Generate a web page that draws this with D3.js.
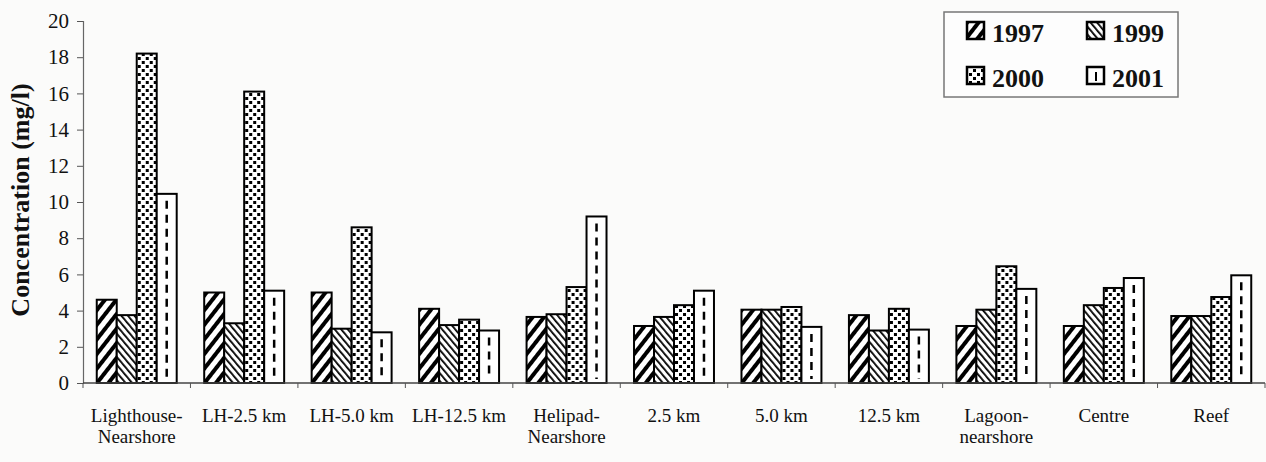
<!DOCTYPE html>
<html><head><meta charset="utf-8">
<script src="https://cdn.jsdelivr.net/npm/d3@7"></script>
<style>body{margin:0;background:#fbfbfa;} svg{display:block;}</style>
</head><body>
<svg id="chart" width="1266" height="462"></svg>
<script>
const categories = ["Lighthouse-\nNearshore","LH-2.5 km","LH-5.0 km","LH-12.5 km","Helipad-\nNearshore","2.5 km","5.0 km","12.5 km","Lagoon-\nnearshore","Centre","Reef"];
const seriesNames = ["1997","1999","2000","2001"];
const v1997 = [4.6, 5.0, 5.0, 4.1, 3.65, 3.15, 4.05, 3.75, 3.15, 3.15, 3.7];
const v1999 = [3.75, 3.3, 3.0, 3.2, 3.8, 3.65, 4.05, 2.9, 4.05, 4.3, 3.7];
const v2000 = [18.2, 16.1, 8.6, 3.5, 5.3, 4.3, 4.2, 4.1, 6.45, 5.25, 4.75];
const v2001 = [10.45, 5.1, 2.8, 2.9, 9.2, 5.1, 3.1, 2.95, 5.2, 5.8, 5.95];
const yTicks = [0,2,4,6,8,10,12,14,16,18,20];
const yTitle = "Concentration (mg/l)";

const series = [v1997, v1999, v2000, v2001];
const svg = d3.select("#chart");
const mLeft = 83, mRight = 1265, mTop = 21, mBottom = 383;

const x0 = d3.scaleBand().domain(categories).range([mLeft, mRight]).paddingInner(0.256).paddingOuter(0.128);
const x1 = d3.scaleBand().domain(seriesNames).range([0, x0.bandwidth()]);
const y = d3.scaleLinear().domain([0, 20]).range([mBottom, mTop]);

// patterns
const defs = svg.append("defs");
const p1 = defs.append("pattern").attr("id","p1997").attr("patternUnits","userSpaceOnUse")
  .attr("width",9).attr("height",9).attr("patternTransform","rotate(38)");
p1.append("rect").attr("width",9).attr("height",9).attr("fill","#fff");
p1.append("rect").attr("x",0).attr("y",0).attr("width",4).attr("height",9).attr("fill","#000");
const p2 = defs.append("pattern").attr("id","p1999").attr("patternUnits","userSpaceOnUse")
  .attr("width",5).attr("height",5).attr("patternTransform","rotate(-40)");
p2.append("rect").attr("width",5).attr("height",5).attr("fill","#fff");
p2.append("rect").attr("x",0).attr("y",0).attr("width",1.8).attr("height",5).attr("fill","#000");
const p3 = defs.append("pattern").attr("id","p2000").attr("patternUnits","userSpaceOnUse")
  .attr("width",8).attr("height",8);
p3.append("rect").attr("width",8).attr("height",8).attr("fill","#fff");
p3.append("rect").attr("x",1).attr("y",1).attr("width",3).attr("height",3).attr("fill","#000");
p3.append("rect").attr("x",5).attr("y",5).attr("width",3).attr("height",3).attr("fill","#000");
const fills = ["url(#p1997)","url(#p1999)","url(#p2000)","#fff"];

// y axis
const yAxis = d3.axisLeft(y).tickValues(yTicks).tickSize(6).tickPadding(8);
const ga = svg.append("g").attr("transform",`translate(${mLeft},0)`).call(yAxis);
ga.select(".domain").attr("stroke","#666").attr("stroke-width",1.2);
ga.selectAll(".tick line").attr("stroke","#555");
ga.selectAll(".tick text").attr("font-family","Liberation Serif").attr("font-size",21).attr("fill","#111");

// bars
const groups = svg.append("g").selectAll("g").data(categories).join("g")
  .attr("transform", d => `translate(${x0(d)},0)`);
seriesNames.forEach((s, si) => {
  groups.append("rect")
    .attr("x", x1(s)).attr("width", x1.bandwidth())
    .attr("y", (d,i) => y(series[si][i]))
    .attr("height", (d,i) => y(0) - y(series[si][i]))
    .attr("fill", fills[si]).attr("stroke","#000").attr("stroke-width",2);
});
// 2001 dashed center lines
groups.append("line")
  .attr("x1", x1("2001") + x1.bandwidth()/2).attr("x2", x1("2001") + x1.bandwidth()/2)
  .attr("y1", (d,i) => y(v2001[i]) + 7).attr("y2", y(0) - 4)
  .attr("stroke","#000").attr("stroke-width",2.5).attr("stroke-dasharray","8,6");

// x axis
svg.append("line").attr("x1",mLeft).attr("x2",mRight).attr("y1",mBottom).attr("y2",mBottom)
  .attr("stroke","#444").attr("stroke-width",1.5);
const step = x0.step();
const bounds = d3.range(categories.length + 1).map(i => mLeft + i * step);
svg.append("g").selectAll("line").data(bounds).join("line")
  .attr("x1", d => d).attr("x2", d => d).attr("y1", mBottom).attr("y2", mBottom + 5)
  .attr("stroke","#555").attr("stroke-width",1);
const xl = svg.append("g").selectAll("text").data(categories).join("text")
  .attr("x", d => x0(d) + x0.bandwidth()/2).attr("y", 422)
  .attr("text-anchor","middle").attr("font-family","Liberation Serif").attr("font-size",19).attr("fill","#111");
xl.each(function(d){
  const lines = d.split("\n");
  d3.select(this).selectAll("tspan").data(lines).join("tspan")
    .attr("x", x0(d) + x0.bandwidth()/2).attr("dy",(l,i)=> i===0?0:21).text(l => l);
});

// y title
svg.append("text").attr("transform","translate(29,200) rotate(-90)")
  .attr("text-anchor","middle").attr("font-family","Liberation Serif").attr("font-weight","bold")
  .attr("font-size",26).attr("fill","#111").text(yTitle);

// legend
const lg = svg.append("g");
lg.append("rect").attr("x",944).attr("y",12).attr("width",234).attr("height",85)
  .attr("fill","#fdfdfd").attr("stroke","#777").attr("stroke-width",1.5);
const lpos = [[967,22],[1087,22],[967,67],[1087,67]];
seriesNames.forEach((s, si) => {
  const [lx, ly] = lpos[si];
  lg.append("rect").attr("x",lx).attr("y",ly).attr("width",17).attr("height",17)
    .attr("fill", fills[si]).attr("stroke","#000").attr("stroke-width",2.5);
  if (si === 3) {
    lg.append("line").attr("x1",lx+9).attr("x2",lx+9).attr("y1",ly+5).attr("y2",ly+14)
      .attr("stroke","#000").attr("stroke-width",2);
  }
  lg.append("text").attr("x", lx + 25).attr("y", ly + 20)
    .attr("font-family","Liberation Serif").attr("font-weight","bold").attr("font-size",26)
    .attr("fill","#111").text(s);
});
</script>
</body></html>
